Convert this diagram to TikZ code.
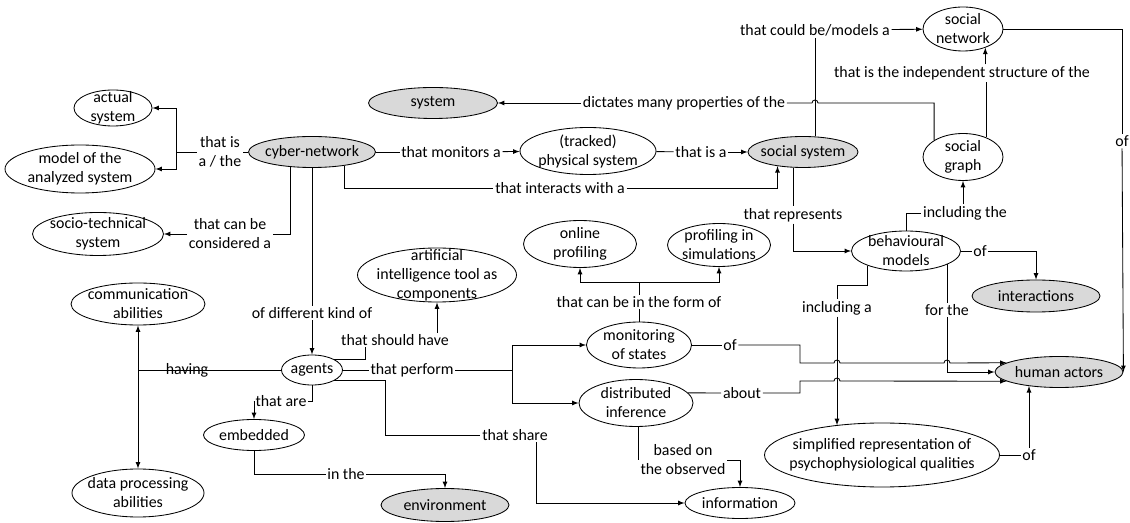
\documentclass[tikz,border=0pt]{standalone}
\usepackage{fontspec}
\setmainfont{Carlito}
\usetikzlibrary{shapes.geometric}

\begin{document}
\begin{tikzpicture}[>=latex, x=0.025cm, y=-0.025cm, line width=0.6pt,
every node/.style={font=\fontsize{11.3}{13.5}\selectfont, align=center},
concept/.style={ellipse, draw, inner sep=-30pt},
key/.style={concept, fill=gray!30},
esize/.style 2 args={minimum width=#1*0.025cm, minimum height=#2*0.025cm},
phrase/.style={inner sep=1pt},
hopr/.style={start angle=180, end angle=0, radius=0.075cm},
hopl/.style={start angle=0, end angle=180, radius=0.075cm}]
\useasboundingbox (0,0) rectangle (1130,523);

\node[concept, esize={78}{36}] (actual) at (113,108) {actual\\system};
\node[concept, esize={150}{48}] (model) at (80,169) {model of the\\analyzed system};
\node[key, esize={127}{31}] (cyber) at (312,152) {cyber-network};
\node[concept, esize={131}{43}] (socio) at (98,234) {socio-technical\\system};
\node[key, esize={129}{31}] (system) at (433,103) {system};
\node[concept, esize={136}{47}] (phys) at (588,151) {(tracked)\\physical system};
\node[key, esize={110}{31}] (social) at (803,152) {social system};
\node[concept, esize={80}{44}] (snet) at (963,29) {social\\network};
\node[concept, esize={80}{47}] (sgraph) at (963,157) {social\\graph};
\node[concept, esize={109}{40}] (behav) at (906,251) {behavioural\\models};
\node[key, esize={128}{32}] (inter) at (1036,296) {interactions};
\node[key, esize={128}{31}] (human) at (1059,372) {human actors};
\node[concept, esize={235}{64}] (simpl) at (882,455) {simplified representation of\\psychophysiological qualities};
\node[concept, esize={113}{47}] (online) at (580,244) {online\\profiling};
\node[concept, esize={103}{43}] (psim) at (719,245) {profiling in\\simulations};
\node[concept, esize={105}{46}] (monit) at (639,345) {monitoring\\of states};
\node[concept, esize={114}{47}] (dinf) at (636,403) {distributed\\inference};
\node[concept, esize={110}{31}] (info) at (740,503) {information};
\node[concept, esize={159}{54}] (ai) at (437,275) {artificial\\intelligence tool as\\components};
\node[concept, esize={61}{30}] (agents) at (312,370) {agents};
\node[concept, esize={134}{42}] (comm) at (138,304) {communication\\abilities};
\node[concept, esize={132}{48}] (data) at (138,493) {data processing\\abilities};
\node[concept, esize={101}{31}] (embed) at (254,435) {embedded};
\node[key, esize={128}{33}] (env) at (445,505) {environment};

\node[phrase] (isa) at (220,152) {that is\\a / the};
\node[phrase] (canbe) at (230,234) {that can be\\considered a};
\node[phrase] (kind) at (312,313) {of different kind of};
\node[phrase] (interacts) at (560,188) {that interacts with a};
\node[phrase] (monitors) at (451,152) {that monitors a};
\node[phrase] (isa2) at (701,152) {that is a};
\node[phrase] (dict) at (684,103) {dictates many properties of the};
\node[phrase] (couldbe) at (815,30) {that could be/models a};
\node[phrase] (indep) at (962,73) {that is the independent structure of the};
\node[phrase] (ofnet) at (1122,141) {of};
\node[phrase] (represents) at (793,215) {that represents};
\node[phrase] (incthe) at (965,213) {including the};
\node[phrase] (ofint) at (980,251) {of};
\node[phrase] (inca) at (837,308) {including a};
\node[phrase] (forthe) at (947,310) {for the};
\node[phrase] (ofsimp) at (1029,455) {of};
\node[phrase] (should) at (395,340) {that should have};
\node[phrase] (having) at (187,370) {having};
\node[phrase] (thatare) at (281,401) {that are};
\node[phrase] (inthe) at (346,474) {in the};
\node[phrase] (perform) at (412,370) {that perform};
\node[phrase] (share) at (515,435) {that share};
\node[phrase] (form) at (639,302) {that can be in the form of};
\node[phrase] (ofmon) at (730,345) {of};
\node[phrase] (about) at (742,393) {about};
\node[phrase] (based) at (683,460) {based on\\the observed};

\coordinate (isaJ) at (176,152);
\coordinate (hJ) at (138,370);
\coordinate (perfJ) at (512,370);
\coordinate (shareJ) at (385,435);
\coordinate (formJ) at (639,282);
\coordinate (ofJ) at (800,363);
\coordinate (aboutJ) at (800,381);
\coordinate (incaJ) at (837,285);

\draw (cyber) -- (isa);
\draw (isa) -- (isaJ);
\draw[->] (isaJ) |- (actual);
\draw[->] (isaJ) |- (model);
\draw (cyber.215) |- (canbe);
\draw[->] (canbe) -- (socio);
\draw (cyber) -- (kind);
\draw[->] (kind) -- (agents);
\draw (cyber.337) |- (interacts);
\draw[->] (interacts) -| (social.209);
\draw (cyber) -- (monitors);
\draw[->] (monitors) -- (phys);
\draw (phys) -- (isa2);
\draw[->] (isa2) -- (social);
\draw[->] (dict) -- (system);
\draw (sgraph.150) |- (818,103) arc[hopl] -- (dict);
\draw (social.north -| couldbe) -- (couldbe);
\draw[->] (couldbe) -- (snet);
\draw (sgraph.40) -- (sgraph.40 |- indep.south);
\draw[->] (indep.north -| snet.-40) -- (snet.-40);
\draw (snet) -| (ofnet);
\draw[->] (ofnet) -- (human.east);
\draw (social.south -| represents) -- (represents);
\draw[->] (represents) |- (behav);
\draw (behav.north) |- (incthe);
\draw[->] (incthe.north -| sgraph.south) -- (sgraph.south);
\draw (behav) -- (ofint);
\draw[->] (ofint) -| (inter);
\draw (behav.201) |- (incaJ) -- (inca);
\draw[->] (inca) -- (inca |- simpl.147);
\draw (behav.342) -- (behav.342 |- forthe.north);
\draw[->] (forthe) |- (human);
\draw (simpl) -- (ofsimp);
\draw[->] (ofsimp) -- (ofsimp |- human.205);

\draw (agents) -- (hJ);
\draw[->] (hJ) -- (comm);
\draw[->] (hJ) -- (data);
\draw (agents.north east) -| ([xshift=-0.75cm]should.south);
\draw[->] (should.north -| ai.south) -- (ai.south);
\draw (agents) -- (perform);
\draw (perform) -- (perfJ);
\draw[->] (perfJ) |- (monit);
\draw[->] (perfJ) |- (dinf);
\draw (agents.south east) -| (shareJ) -- (share);
\draw[->] ([xshift=0.525cm]share.south) |- (info);
\draw (agents) |- (thatare);
\draw[->] (thatare) -| (embed);
\draw (embed) |- (inthe);
\draw[->] (inthe) -| (env);

\draw (monit) -- (form);
\draw (form) -- (formJ);
\draw[->] (formJ) -| (online);
\draw[->] (formJ) -| (psim);
\draw (monit) -- (ofmon);
\draw[->] (ofmon) -| (ofJ) -- (834,363) arc[hopr] -- (944,363) arc[hopr] -- (human.170);
\draw (dinf.11) -- (about);
\draw[->] (about) -| (aboutJ) -- (834,381) arc[hopr] -- (human.190);
\draw (dinf.south -| based.west) -- (based.west);
\draw[->] (based) -| (info);
\end{tikzpicture}
\end{document}
